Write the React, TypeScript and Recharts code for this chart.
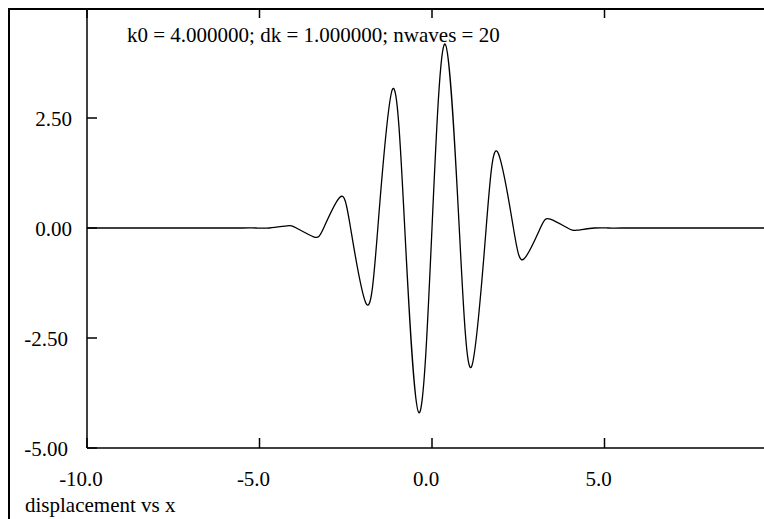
import React from 'react';
import { LineChart, Line, XAxis, YAxis } from 'recharts';

// values (wave packet, k0 = 4, dk = 1, 20 waves)
const xValues = [
  -10, -7, -5.5, -5.1, -4.71, -4.2, -3.93, -3.43, -3.14, -2.67, -2.36, -1.9, -1.57,
  -1.14, -0.79, -0.38, 0, 0.38, 0.79, 1.14, 1.57, 1.9, 2.36, 2.67, 3.14, 3.43, 3.93,
  4.2, 4.71, 5.1, 5.5, 7, 10,
];
const displacement = [
  0, 0, 0, 0, 0, 0.05, 0, -0.2, 0, 0.7, 0, -1.73, 0,
  3.16, 0, -4.2, 0, 4.18, 0, -3.16, 0, 1.73, 0, -0.7, 0, 0.2, 0,
  -0.05, 0, 0, 0, 0, 0,
];
const xTicks = [-10, -5, 0, 5];
const yTicks = [-5, -2.5, 0, 2.5];
const title = 'k0 = 4.000000; dk = 1.000000; nwaves = 20';
const caption = 'displacement vs x';

const data = xValues.map((x, i) => ({ x, y: displacement[i] }));

const FONT = '"Liberation Serif", "Times New Roman", serif';

const BottomTick = (props: any) => {
  const { x, y, payload } = props;
  return (
    <g>
      <line x1={x} y1={y} x2={x} y2={y - 10} stroke="#000" strokeWidth={1.5} />
      {/* matching tick on the top frame */}
      <line x1={x} y1={0} x2={x} y2={10} stroke="#000" strokeWidth={1.5} />
      <text x={x - 6} y={y + 38} textAnchor="middle" fontFamily={FONT} fontSize={21} fill="#000">
        {payload.value.toFixed(1)}
      </text>
    </g>
  );
};

const LeftTick = (props: any) => {
  const { x, y, payload } = props;
  const v = payload.value;
  return (
    <g>
      <line x1={x} y1={y} x2={x + 10} y2={y} stroke="#000" strokeWidth={1.5} />
      <text x={x - (v < 0 ? 19 : 15)} y={y + 8} textAnchor="end" fontFamily={FONT} fontSize={21} fill="#000">
        {v.toFixed(2)}
      </text>
    </g>
  );
};

const App = () => {
  return (
    <div style={{ position: 'relative', width: 764, height: 519, overflow: 'hidden', background: '#fff' }}>
      <style>{'body { margin: 0; }'}</style>
      <div style={{ position: 'absolute', left: 8, top: 8, width: 756, height: 1.5, background: '#000' }} />
      <div style={{ position: 'absolute', left: 8, top: 8, width: 1.5, height: 511, background: '#000' }} />
      <div style={{ position: 'absolute', left: 8, top: 8 }}>
        <LineChart width={769} height={511} data={data} margin={{ top: 0, right: 0, bottom: 0, left: 0 }}>
          <XAxis
            type="number"
            dataKey="x"
            domain={[-10, 10]}
            ticks={xTicks}
            interval={0}
            height={71}
            axisLine={{ stroke: '#000', strokeWidth: 1.5 }}
            tickLine={false}
            tickSize={0}
            tickMargin={0}
            tick={(p: any) => <BottomTick {...p} />}
          />
          <YAxis
            type="number"
            domain={[-5, 5]}
            ticks={yTicks}
            interval={0}
            width={79}
            axisLine={{ stroke: '#000', strokeWidth: 1.5 }}
            tickLine={false}
            tickSize={0}
            tickMargin={0}
            tick={(p: any) => <LeftTick {...p} />}
          />
          <Line
            type="natural"
            dataKey="y"
            stroke="#000"
            strokeWidth={1.3}
            dot={false}
            isAnimationActive={false}
          />
        </LineChart>
      </div>
      <svg style={{ position: 'absolute', left: 0, top: 0, pointerEvents: 'none' }} width={764} height={519}>
        <text x={127} y={42} fontFamily={FONT} fontSize={21} fill="#000">
          {title}
        </text>
        <text x={25} y={512} fontFamily={FONT} fontSize={21} fill="#000">
          {caption}
        </text>
      </svg>
    </div>
  );
};

export default App;
